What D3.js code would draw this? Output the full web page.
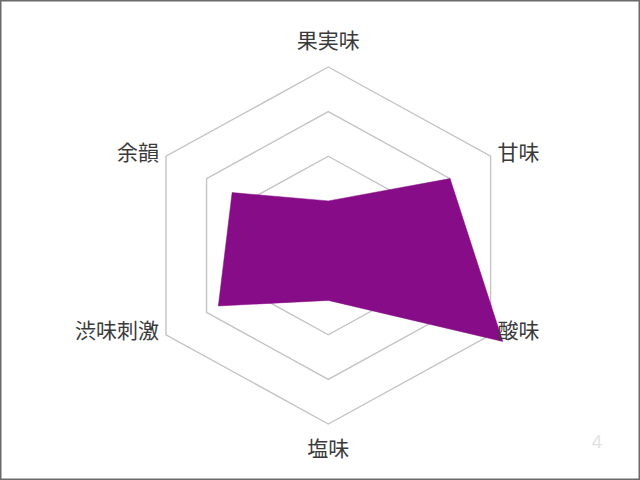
<!DOCTYPE html>
<html>
<head>
<meta charset="utf-8">
<script src="https://cdn.jsdelivr.net/npm/d3@7"></script>
<style>
  html, body { margin: 0; padding: 0; background: #fff; }
  svg { display: block; }
</style>
</head>
<body>
<svg id="chart" width="640" height="480"></svg>
<script>
// Data
const axes = ["果実味", "甘味", "酸味", "塩味", "渋味刺激", "余韻"]
const values = [1.0, 3.0, 4.3, 1.23, 2.71, 2.37]
const gridLevels = [2, 3, 4]
const pageNumber = "4"

const width = 640, height = 480
const cx = 328.3, cy = 245.5
const stretchX = 1.05   // chart is a little wider than tall

const svg = d3.select("#chart")

svg.append("rect")
    .attr("x", 0.75).attr("y", 0.75)
    .attr("width", width - 1.5).attr("height", height - 1.5)
    .attr("fill", "#fff")
    .attr("stroke", "#6b6b6b")
    .attr("stroke-width", 1.5)

const r = d3.scaleLinear().domain([0, 4]).range([0, 178.5])
const angle = d3.scalePoint().domain(d3.range(axes.length)).range([0, 300])

function pos(i, v) {
    const a = angle(i) * Math.PI / 180
    return [cx + r(v) * Math.sin(a) * stretchX, cy - r(v) * Math.cos(a)]
}

const closed = d3.line().curve(d3.curveLinearClosed)

// grid rings
svg.append("g")
    .selectAll("path")
    .data(gridLevels)
    .join("path")
        .attr("d", lv => closed(axes.map((_, i) => pos(i, lv))))
        .attr("fill", "none")
        .attr("stroke", "#c4c4c4")
        .attr("stroke-width", 1.4)

// series
svg.append("path")
    .datum(values)
    .attr("d", d => closed(d.map((v, i) => pos(i, v))))
    .attr("fill", "#870c87")
    .attr("stroke", "#870c87")
    .attr("stroke-width", 0.5)

// axis labels
const labelPad = 7
svg.append("g")
    .selectAll("text")
    .data(axes)
    .join("text")
        .attr("x", (d, i) => {
            const [x] = pos(i, 4)
            if (i == 0 || i == 3) return x
            return i < 3 ? x + labelPad : x - labelPad
        })
        .attr("y", (d, i) => {
            const [, y] = pos(i, 4)
            if (i == 0) return y - 26
            if (i == 3) return y + 25
            return y - 4
        })
        .attr("dy", "0.35em")
        .attr("text-anchor", (d, i) => (i == 0 || i == 3) ? "middle" : (i < 3 ? "start" : "end"))
        .attr("font-family", "'Noto Sans CJK JP', 'Noto Sans', sans-serif")
        .attr("font-size", 21)
        .attr("fill", "#3a3a3a")
        .text(d => d)

svg.append("text")
    .attr("x", 597).attr("y", 442)
    .attr("dy", "0.35em")
    .attr("text-anchor", "middle")
    .attr("font-family", "'Noto Sans', sans-serif")
    .attr("font-size", 18)
    .attr("fill", "#e2e2e2")
    .text(pageNumber)
</script>
</body>
</html>
